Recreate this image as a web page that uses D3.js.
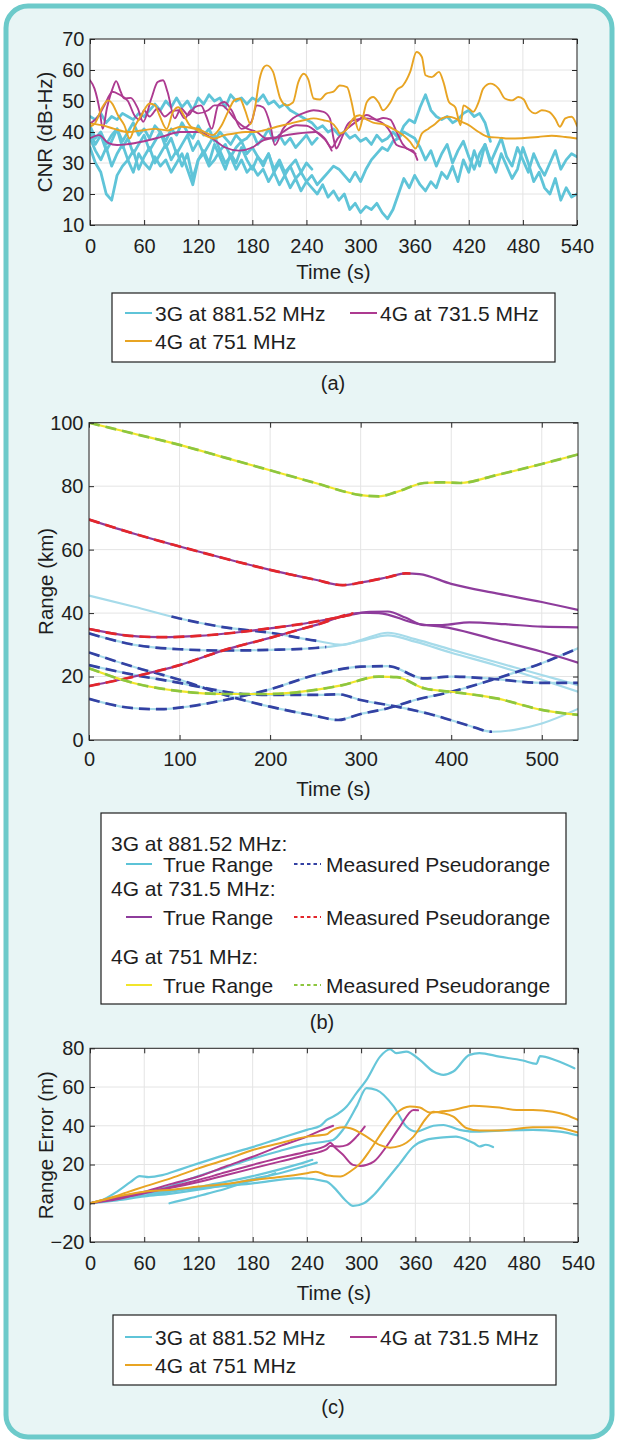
<!DOCTYPE html>
<html>
<head>
<meta charset="utf-8">
<script src="https://cdn.jsdelivr.net/npm/d3@7"></script>
<style>
  html, body { margin: 0; padding: 0; background: #fff; }
  svg { display: block; }
</style>
</head>
<body>
<svg id="fig" width="618" height="1443"></svg>
<script>
// ---------- data: (a) CNR, dB-Hz ----------
// 3G lines sampled every 6 s from t = 0
const CNR_STEP = 6;
const cnr3G_A = [45,44,46,43,45,44,46,45,44,46, 45,47,49,47,50,48,51,48,50,47,
  51,49,52,50,51,48,52,50,51,49, 51,50,52,49,50,48,49,47,46,45,
  44,43,41,42,40,41,39,40,38,39, 37,38,36,39,37,38,40,38,42,44,
  43,48,52,47,45,44,45,43,44,46, 47,45,46,43,37];
const cnr3G_B = [42,38,40,36,39,41,37,40,43,39, 41,38,42,40,37,41,39,43,40,38,
  42,39,41,37,40,38,36,39,37,38, 40,36,38,41,37,39,36,38,35,37, 39,36,38];
const cnr3G_E = [38,34,31,35,29,33,36,31,34,28, 32,35,30,33,36,31,34,29,33,25,
  31,34,30,36,32,28,33,30,35,31, 28,32,29,33,27,30,26,29,31,27, 30,28];
const cnr3G_C = [35,30,27,20,18,26,29,31,27,33, 30,28,32,29,31,27,30,33,28,23,
  31,33,29,31,34,30,32,28,31,27, 29,26,28,24,27,23,26,22,25,21,
  24,22,20,23,19,21,18,20,15,17, 14,16,15,17,14,12,15,20,25,22,
  26,23,21,24,22,27,25,29,24,31, 27,34,29,36,31,27,33,29,25,28,
  35,30,24,27,22,20,25,18,22,19, 20];
const cnr3G_D = [40,36,39,34,37,41,35,38,33,36, 39,34,37,40,35,38,33,36,39,34,
  37,33,36,39,34,36,32,35,37,33, 35,32,30,33,28,31,27,29,25,27,
  24,26,23,25,27,29,28,26,24,27, 24,28,31,33,35,34,37,38,40,39,
  38,35,31,34,29,33,36,30,34,37, 32,28,33,36,30,34,38,32,29,35,
  31,27,33,29,26,30,34,28,31,33, 32];
const cnr3G = [cnr3G_A, cnr3G_B, cnr3G_E, cnr3G_C, cnr3G_D];

// 4G lines as [time s, CNR]
const cnr731_1 = [[0,56.7],[5,54],[11,46.5],[14,41],[19,48],[25,54],[29,56.4],[34,53],[38,50.8],[45,51],[53,47.6],[59,43.3],[68,50.8],[75,56.1],[81,56.7],[86,52.9],[94,44.4],[101,47.6],[109,45.4],[116,48],[123,48.6],[129,45],[135,41],[142,48.6],[149,49.7],[157,47],[168,41],[179,43.3],[185,48.6],[192,48],[200,42.2],[205,35.8],[214,41],[225,44.4],[236,46],[248,47],[259,46.5],[266,44.4],[270,38],[273,34.7],[279,38],[285,42.2],[292,43.8],[307,44.4],[322,43.3],[333,40],[340,35.8],[351,34.7],[361,33]];
const cnr731_2 = [[0,42.7],[9,45],[16,48.6],[25,53],[33,52],[42,50],[50,45],[55,44],[60,47],[66,45],[75,47.6],[83,45],[90,46.5],[98,47],[105,44.4],[112,47],[120,46],[131,47],[138,48.6],[146,48.6],[153,47],[160,44.4],[168,42.2],[175,41],[185,40],[195,38],[205,38],[214,40],[229,42.2],[240,42],[255,39],[262,37],[268,34]];
const cnr731_3 = [[0,38],[10,39],[20,36.5],[30,35.8],[40,36],[60,37],[80,38.5],[100,40],[120,40],[135,38],[150,35],[165,34],[180,35],[190,37],[210,38.5],[230,39.5],[250,40],[260,38],[268,35],[275,38],[285,41],[296,43.5],[307,45.5],[318,44],[325,44.5],[333,44],[340,40],[347,36],[352,34.5],[358,34],[363,31]];
const cnr731 = [cnr731_1, cnr731_2, cnr731_3];

const cnr751_1 = [[0,41.7],[6,43],[13,47.6],[20,50.2],[25,49],[31,45.4],[38,42.2],[44,37.9],[50,42],[57,45.4],[66,49.2],[72,48.6],[77,45.4],[85,41],[92,46.5],[98,48],[104,45.4],[112,41.7],[120,41],[127,40],[136,39],[146,42.2],[153,46.5],[160,50.2],[166,50.8],[172,47],[178,42.5],[183,48],[188,57],[193,61],[196,61.5],[203,59.4],[207,55],[211,50.8],[218,48.6],[225,49.5],[231,56.1],[237,58.8],[242,57],[248,50.8],[255,50.5],[262,52.4],[270,53],[277,55],[285,54.5],[290,49.7],[294,44],[298,40.5],[302,44],[307,49.7],[314,51.3],[320,49.5],[325,47],[333,49.5],[340,53.5],[347,55],[355,59.4],[362,65.8],[368,64.2],[372,58.3],[379,57.7],[387,59.4],[392,56],[398,49.7],[405,48],[411,42.2],[414,48.6],[420,47.6],[425,46.5],[431,49.7],[436,54],[444,55.6],[453,54],[460,50.8],[468,50.2],[475,51.3],[481,50.5],[486,47.6],[494,46],[501,47],[509,46.5],[516,44.2],[521,41.7],[527,44.4],[534,44.9],[540,42]];
const cnr751_2 = [[0,42.7],[13,42.2],[27,41],[42,40],[57,40.5],[72,41],[86,40.5],[101,41.7],[116,41],[127,39],[138,37.9],[149,39],[160,39.5],[172,40],[181,40],[192,40.5],[207,41.7],[222,42.7],[237,43.8],[248,44.4],[259,43.8],[266,43.3],[274,41],[277,39.5],[285,41],[292,44.4],[299,45.4],[307,44],[314,43],[325,42.5],[336,41],[347,39],[355,36.8],[361,34.7],[368,39.5],[375,41],[383,42.7],[390,44.4],[398,44.9],[405,44.4],[412,43.3],[420,42.2],[431,40],[442,38.4],[453,38.2],[464,37.9],[479,38],[497,38.4],[512,38.8],[527,38.4],[540,37.9]];
const cnr751 = [cnr751_1, cnr751_2];

// ---------- data: (b) range, km ----------
const range3G = [
  [[0,45.5],[50,42],[100,38.3],[150,35.5],[200,33.8],[250,31.3],[280,30],[300,31.5],[330,33.8],[360,31.8],[400,28.5],[450,24.5],[500,20.5],[540,17.3]],
  [[0,33.6],[50,30],[100,28.6],[150,28.2],[200,28.4],[250,29],[280,30],[300,31.2],[330,33],[360,31],[400,27.5],[450,23.5],[500,19],[540,15.2]],
  [[0,27.6],[50,23],[100,19],[150,14.2],[200,10.5],[250,7.6],[275,6.3],[300,8.2],[330,10],[360,12.6],[400,15.2],[450,19.4],[500,24.2],[540,28.9]],
  [[0,23.6],[50,20.5],[100,18],[130,16.3],[170,14.5],[200,14.2],[250,14.2],[275,14.4],[300,12.6],[340,10.5],[380,7.9],[420,4.5],[445,2.6],[470,3.2],[500,5.2],[540,9.8]],
  [[0,13],[50,10],[80,9.7],[100,10.2],[150,12.6],[200,16],[250,20.5],[300,23.1],[330,23.3],[370,19.4],[400,20],[440,19.4],[500,18],[540,18]]
];
// measured pseudorange available over [from, to] seconds
const meas3G = [[90,255],[0,262],[0,540],[0,445],[0,540]];

const range731 = [
  [[0,69.5],[50,65],[100,61],[150,57.2],[200,53.6],[250,50.5],[280,48.8],[300,49.6],[330,51.3],[350,52.5],[365,52.3],[400,49.2],[450,46.2],[500,43.5],[540,41]],
  [[0,35],[40,33],[80,32.4],[120,32.8],[160,33.8],[200,35.2],[240,36.8],[280,38.9],[310,40.4],[330,40.5],[350,38.5],[370,36.2],[390,36.2],[420,37.1],[460,36.5],[500,35.7],[540,35.5]],
  [[0,17],[50,20],[100,23.6],[150,28.4],[200,32.2],[250,36.2],[300,40.1],[320,40],[360,36.8],[400,35.2],[450,31.5],[500,27.8],[540,24.4]]
];
const meas731 = [[0,355],[0,290],[0,292]];

const range751 = [
  [[0,100],[50,96.5],[100,93],[150,89],[200,85],[250,81],[300,77.2],[320,76.8],[340,78.2],[370,81],[390,81.2],[410,81],[450,83.5],[500,87],[540,90]],
  [[0,22.6],[50,17.9],[100,15.4],[150,14.5],[200,14.5],[250,15.8],[280,17.3],[320,20],[340,19.8],[370,16.3],[400,15.2],[450,13.1],[500,9.5],[540,7.9]]
];
const meas751 = [[0,540],[0,540]];

// ---------- data: (c) range error, m ----------
const err3G = [
  [[0,0],[15,2],[30,6],[45,11],[55,14],[65,13.5],[80,14.5],[100,17.5],[120,20.6],[150,25],[180,29],[210,33.5],[240,37.9],[255,40],[262,43],[269,44.7],[284,50],[295,57],[306,63.7],[321,75.7],[332,79.5],[339,77.5],[350,78.3],[365,74],[380,68],[391,66.3],[402,68],[420,76.6],[431,77.5],[453,75.7],[479,73.7],[494,72],[498,76],[516,73.7],[536,69.7]],
  [[0,0],[30,2.5],[60,5.5],[90,9],[120,14],[150,18.5],[180,23],[210,27],[240,30.5],[262,32],[269,32.7],[280,38],[295,50],[306,59.4],[317,58.5],[336,50],[350,39.6],[361,37],[380,40],[391,40.4],[409,37.9],[424,37],[453,37.5],[490,37.9],[520,37],[540,35]],
  [[0,0],[30,2],[60,4],[90,6],[120,8.5],[150,11],[180,14],[210,17.5],[240,21.5],[246,22.4]],
  [[0,0],[30,1.5],[60,3.5],[90,5],[120,7],[150,9.5],[180,12.5],[210,15.5],[240,19.5],[251,21]],
  [[0,0],[30,3],[60,5],[120,7.7],[180,10.3],[232,13],[262,11.2],[269,8.6],[284,0.9],[291,-1.4],[303,0],[314,4.3],[328,12],[343,20.6],[358,29.3],[372,32.7],[391,34],[405,34.4],[417,32.7],[425,31],[431,29.3],[438,30.2],[446,29]],
  [[88,0],[110,2.5],[130,5],[150,7.5],[170,10.5],[190,13],[205,15.5]]
];
const err731 = [
  [[0,0],[20,2],[40,4],[60,6],[90,10],[120,13.8],[150,19],[180,24],[210,29.5],[240,34.4],[255,37.5],[269,40]],
  [[0,0],[30,2.5],[60,5.2],[90,8.5],[120,12],[150,16],[180,19.8],[210,23.5],[240,26.7],[262,30],[266,31.3],[270,29.3],[280,25],[291,19.8],[299,19.3],[314,21.5],[328,29.3],[343,39.6],[358,48.2],[363,48]],
  [[0,0],[30,2],[60,5.5],[90,8],[120,11],[150,14.5],[180,18],[210,21.5],[240,25],[262,28],[266,29.6],[276,29.3],[284,30],[295,34.4],[304,39.6]]
];
const err751 = [
  [[0,0],[20,2.5],[40,5.5],[60,8.6],[90,13],[120,18],[150,22.5],[180,27.5],[210,31],[240,34.4],[262,35.6],[266,37],[280,39.2],[288,38.7],[306,34.4],[321,30],[332,28.7],[343,29.6],[358,34.4],[372,43.9],[380,47.3],[391,46.5],[402,44.7],[417,38.7],[431,37.5],[453,37.5],[490,39.2],[512,39.2],[540,36.5]],
  [[0,0],[30,3.5],[60,6],[90,7],[120,8.6],[150,10],[180,12],[210,13.5],[240,15.5],[250,16.3],[262,14.5],[277,13.8],[288,16.4],[299,20.6],[310,27.5],[325,37.9],[339,46.5],[354,50],[365,49.4],[376,46.8],[387,47.3],[402,48.2],[413,49.4],[424,50.3],[439,50],[453,49.4],[472,48.2],[490,48.2],[512,47.3],[527,45.6],[540,43]]
];

// ticks
const ticksMin = [0, 60, 120, 180, 240, 300, 360, 420, 480, 540];
const ticksB = [0, 100, 200, 300, 400, 500];
const ticksCnr = [10, 20, 30, 40, 50, 60, 70];
const ticksRange = [0, 20, 40, 60, 80, 100];
const ticksErr = [-20, 0, 20, 40, 60, 80];

// ---------- styling ----------
const FONT = '"Liberation Sans", Arial, Helvetica, sans-serif';
const C3G = '#5fc4d8', C731 = '#ad3a90', C751 = '#e8a423';

const svg = d3.select('#fig').attr('font-family', FONT);
const defs = svg.append('defs');

// rounded background card
svg.append('rect')
  .attr('x', 6).attr('y', 6).attr('width', 606).attr('height', 1431).attr('rx', 22)
  .attr('fill', '#e8f5f5').attr('stroke', '#6ccaca').attr('stroke-width', 5);

let clipCount = 0;
function clipRect(x0, y0, x1, y1) {
  const id = 'clip' + (clipCount++);
  defs.append('clipPath').attr('id', id).append('rect')
    .attr('x', x0).attr('y', y0).attr('width', x1 - x0).attr('height', y1 - y0);
  return 'url(#' + id + ')';
}

// plot frame: white area + grid, returns scales
function frame(p) {
  const x = d3.scaleLinear().domain([0, 540]).range([p.left, p.right]);
  const y = d3.scaleLinear().domain(p.yDomain).range([p.bottom, p.top]);
  const g = svg.append('g');
  g.append('rect').attr('x', p.left).attr('y', p.top)
    .attr('width', p.right - p.left).attr('height', p.bottom - p.top).attr('fill', '#fff');
  g.selectAll('.gx').data(p.xTicks).join('line')
    .attr('x1', d => x(d)).attr('x2', d => x(d)).attr('y1', p.top).attr('y2', p.bottom)
    .attr('stroke', '#e4e4e4').attr('stroke-width', 1);
  g.selectAll('.gy').data(p.yTicks).join('line')
    .attr('x1', p.left).attr('x2', p.right).attr('y1', d => y(d)).attr('y2', d => y(d))
    .attr('stroke', '#e4e4e4').attr('stroke-width', 1);
  const clip = clipRect(p.left, p.top, p.right, p.bottom);
  return { x, y, g, clip, p };
}

// box, inside ticks and labels
function finish(ctx, labelOff, xLabelY, yLabel, yLabelX, fmtY) {
  const { x, y, p } = ctx;
  const g = svg.append('g').attr('color', '#262626');
  const style = sel => {
    sel.select('.domain').remove();
    sel.attr('font-family', FONT).attr('font-size', 20);
    sel.selectAll('text').attr('fill', '#1e1e1e');
  };
  g.append('g').attr('transform', `translate(0,${p.bottom})`)
    .call(d3.axisBottom(x).tickValues(p.xTicks).tickSizeInner(-5).tickSizeOuter(0).tickPadding(labelOff))
    .call(style);
  g.append('g').attr('transform', `translate(0,${p.top})`)
    .call(d3.axisTop(x).tickValues(p.xTicks).tickSizeInner(-5).tickSizeOuter(0).tickFormat(''))
    .call(style);
  g.append('g').attr('transform', `translate(${p.left},0)`)
    .call(d3.axisLeft(y).tickValues(p.yTicks).tickSizeInner(-5).tickSizeOuter(0).tickPadding(5.5).tickFormat(fmtY))
    .call(style);
  g.append('g').attr('transform', `translate(${p.right},0)`)
    .call(d3.axisRight(y).tickValues(p.yTicks).tickSizeInner(-5).tickSizeOuter(0).tickFormat(''))
    .call(style);
  g.append('rect').attr('x', p.left).attr('y', p.top)
    .attr('width', p.right - p.left).attr('height', p.bottom - p.top)
    .attr('fill', 'none').attr('stroke', '#262626').attr('stroke-width', 1);
  svg.append('text').attr('x', (p.left + p.right) / 2).attr('y', xLabelY)
    .attr('text-anchor', 'middle').attr('dominant-baseline', 'central')
    .attr('font-size', 20.5).attr('fill', '#1e1e1e').text('Time (s)');
  const cy = (p.top + p.bottom) / 2;
  svg.append('text').attr('transform', `translate(${yLabelX},${cy}) rotate(-90)`)
    .attr('text-anchor', 'middle').attr('dominant-baseline', 'central')
    .attr('font-size', 20.5).attr('fill', '#1e1e1e').text(yLabel);
}

function line(ctx, pts, color, width, curve, clip, dash) {
  ctx.g.append('path').datum(pts)
    .attr('clip-path', clip || ctx.clip)
    .attr('fill', 'none').attr('stroke', color).attr('stroke-width', width)
    .attr('stroke-linejoin', 'round').attr('stroke-linecap', dash ? 'butt' : 'round')
    .attr('stroke-dasharray', dash || null)
    .attr('d', d3.line().x(d => ctx.x(d[0])).y(d => ctx.y(d[1])).curve(curve || d3.curveLinear));
}

function caption(txt, cx, cy) {
  svg.append('text').attr('x', cx).attr('y', cy).attr('text-anchor', 'middle')
    .attr('dominant-baseline', 'central').attr('font-size', 20).attr('fill', '#1e1e1e').text(txt);
}

function simpleLegend(x0, y0, x1, y1, rows) {
  svg.append('rect').attr('x', x0).attr('y', y0).attr('width', x1 - x0).attr('height', y1 - y0)
    .attr('fill', '#fff').attr('stroke', '#1e1e1e').attr('stroke-width', 1.2);
  rows.forEach(r => {
    svg.append('line').attr('x1', r.lx).attr('x2', r.lx + 27).attr('y1', r.y).attr('y2', r.y)
      .attr('stroke', r.color).attr('stroke-width', 2);
    svg.append('text').attr('x', r.lx + 30).attr('y', r.y).attr('dominant-baseline', 'central')
      .attr('font-size', 21).attr('fill', '#1e1e1e').text(r.label);
  });
}

// ================= (a) =================
const pa = { left: 90, right: 577, top: 39, bottom: 225, yDomain: [10, 70], xTicks: ticksMin, yTicks: ticksCnr };
const ca = frame(pa);
cnr3G.forEach(vals => line(ca, vals.map((v, i) => [i * CNR_STEP, v]), C3G, 2.8, d3.curveLinear));
cnr731.forEach(s => line(ca, s, C731, 1.9, d3.curveMonotoneX));
cnr751.forEach(s => line(ca, s, C751, 1.9, d3.curveMonotoneX));
finish(ca, 14, 271, 'CNR (dB-Hz)', 44, d3.format('d'));
simpleLegend(112, 293, 555, 362, [
  { lx: 125, y: 313, color: C3G, label: '3G at 881.52 MHz' },
  { lx: 350, y: 313, color: C731, label: '4G at 731.5 MHz' },
  { lx: 125, y: 341, color: C751, label: '4G at 751 MHz' }
]);
caption('(a)', 333, 383);

// ================= (b) =================
const pb = { left: 89, right: 578, top: 422.7, bottom: 740, yDomain: [0, 100], xTicks: ticksB, yTicks: ticksRange };
const cb = frame(pb);
const groupsB = [
  { data: range3G, meas: meas3G, solid: '#a6dbea', dash: '#3341a3' },
  { data: range731, meas: meas731, solid: '#8e3c9c', dash: '#e3262b' },
  { data: range751, meas: meas751, solid: '#f1e52b', dash: '#8dc63f' }
];
groupsB.forEach(gr => {
  gr.data.forEach(s => line(cb, s, gr.solid, 2.2, d3.curveMonotoneX));
  gr.data.forEach((s, i) => {
    const [t0, t1] = gr.meas[i];
    const clip = clipRect(cb.x(t0), pb.top, cb.x(t1), pb.bottom);
    line(cb, s, gr.dash, 2.7, d3.curveMonotoneX, clip, '11,6');
  });
});
finish(cb, 11.3, 788, 'Range (km)', 45, d3.format('d'));

// (b) legend
svg.append('rect').attr('x', 101).attr('y', 813).attr('width', 465).attr('height', 191)
  .attr('fill', '#fff').attr('stroke', '#1e1e1e').attr('stroke-width', 1.2);
const legB = [
  { head: '3G at 881.52 MHz:', hy: 843, ry: 864, g: groupsB[0] },
  { head: '4G at 731.5 MHz:', hy: 888, ry: 917, g: groupsB[1] },
  { head: '4G at 751 MHz:', hy: 956, ry: 985, g: groupsB[2] }
];
const legSolid = ['#5cc3d7', '#8e3c9c', '#f1e52b'];
legB.forEach((e, i) => {
  svg.append('text').attr('x', 111).attr('y', e.hy).attr('dominant-baseline', 'central')
    .attr('font-size', 21).attr('fill', '#1e1e1e').text(e.head);
  svg.append('line').attr('x1', 126).attr('x2', 152).attr('y1', e.ry).attr('y2', e.ry)
    .attr('stroke', legSolid[i]).attr('stroke-width', 2);
  svg.append('text').attr('x', 163).attr('y', e.ry).attr('dominant-baseline', 'central')
    .attr('font-size', 21).attr('fill', '#1e1e1e').text('True Range');
  svg.append('line').attr('x1', 294).attr('x2', 321).attr('y1', e.ry).attr('y2', e.ry)
    .attr('stroke', e.g.dash).attr('stroke-width', 2).attr('stroke-dasharray', '3.5,3');
  svg.append('text').attr('x', 326).attr('y', e.ry).attr('dominant-baseline', 'central')
    .attr('font-size', 21).attr('fill', '#1e1e1e').text('Measured Pseudorange');
});
caption('(b)', 322, 1022);

// ================= (c) =================
const pc = { left: 90, right: 578, top: 1048.3, bottom: 1242, yDomain: [-20, 80], xTicks: ticksMin, yTicks: ticksErr };
const cc = frame(pc);
err3G.forEach(s => line(cc, s, '#66c6d9', 2.2, d3.curveMonotoneX));
err731.forEach(s => line(cc, s, C731, 2, d3.curveMonotoneX));
err751.forEach(s => line(cc, s, C751, 2, d3.curveMonotoneX));
finish(cc, 14, 1292, 'Range Error (m)', 45, d => (d < 0 ? '\u2212' + Math.abs(d) : String(d)));
simpleLegend(113, 1315, 556, 1385, [
  { lx: 125, y: 1337, color: C3G, label: '3G at 881.52 MHz' },
  { lx: 350, y: 1337, color: C731, label: '4G at 731.5 MHz' },
  { lx: 125, y: 1365, color: C751, label: '4G at 751 MHz' }
]);
caption('(c)', 333, 1407);
</script>
</body>
</html>
